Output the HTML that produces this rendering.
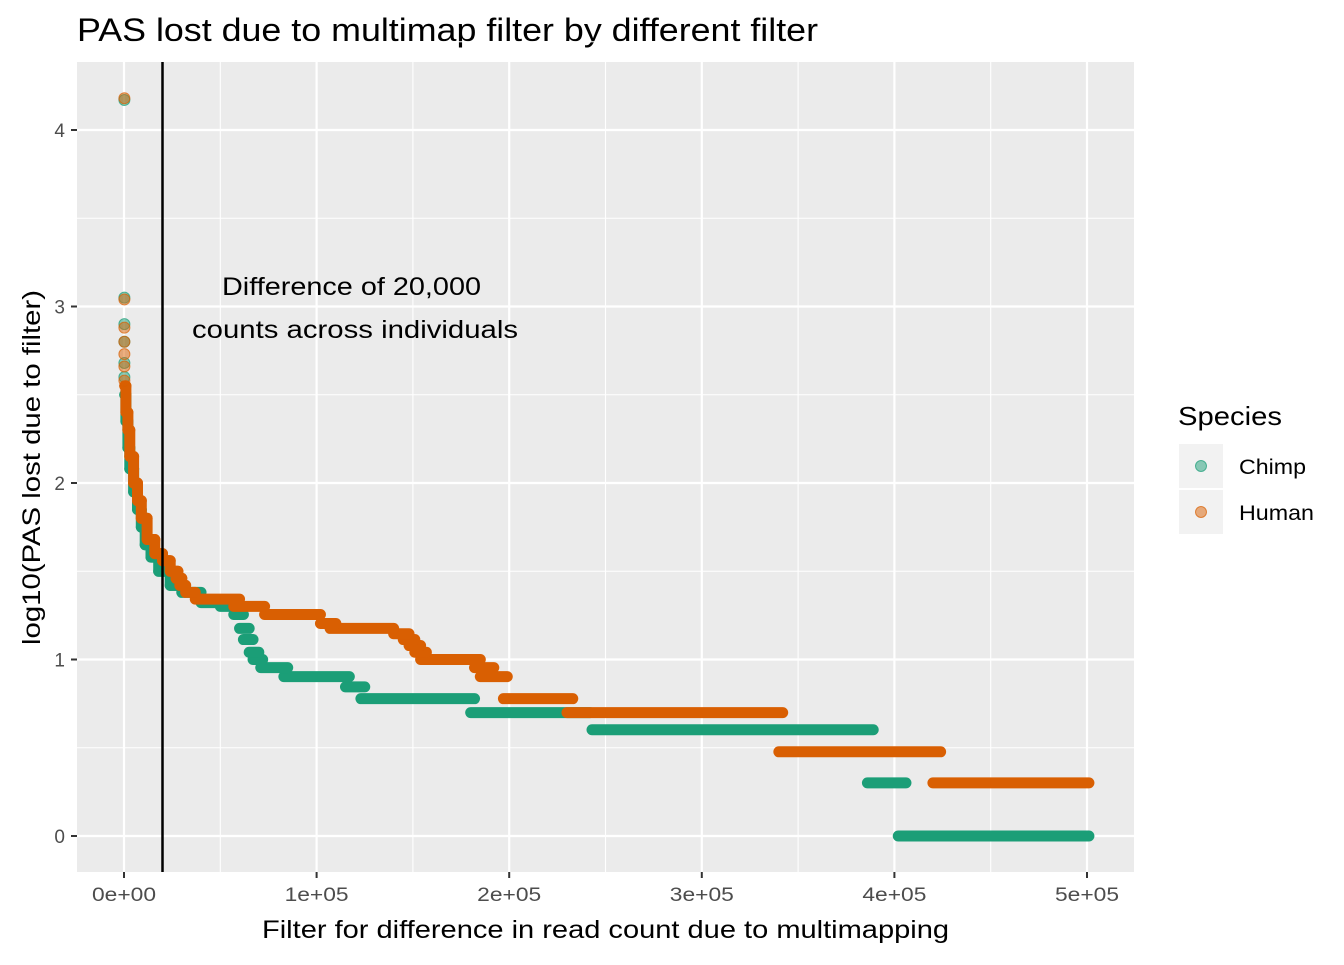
<!DOCTYPE html>
<html><head><meta charset="utf-8"><style>
body{margin:0;background:#fff;font-family:"Liberation Sans",sans-serif}
svg text{font-family:"Liberation Sans",sans-serif}
</style></head><body>
<svg id="chart" width="1344" height="960" xmlns="http://www.w3.org/2000/svg">
<text x="77" y="41" font-size="32" fill="#000" textLength="741" lengthAdjust="spacingAndGlyphs">PAS lost due to multimap filter by different filter</text>
<rect x="77" y="62" width="1057" height="810" fill="#EBEBEB"/>
<g id="grid"></g>
<g id="marks"></g>
<g id="axes"></g>
<line x1="162.5" y1="62" x2="162.5" y2="872" stroke="#000" stroke-width="2.5"/>
<text x="222" y="295" font-size="25" textLength="259" lengthAdjust="spacingAndGlyphs">Difference of 20,000</text>
<text x="192" y="338" font-size="25" textLength="326" lengthAdjust="spacingAndGlyphs">counts across individuals</text>
<text x="262" y="938" font-size="25" textLength="687" lengthAdjust="spacingAndGlyphs">Filter for difference in read count due to multimapping</text>
<text transform="translate(40,645) rotate(-90)" font-size="25" textLength="355" lengthAdjust="spacingAndGlyphs">log10(PAS lost due to filter)</text>
<g>
<text x="1178" y="425" font-size="26" textLength="104" lengthAdjust="spacingAndGlyphs">Species</text>
<rect x="1179" y="444" width="44" height="44" fill="#F2F2F2"/>
<circle cx="1201" cy="466" r="5.5" fill="#1B9E77" fill-opacity="0.5" stroke="#1B9E77" stroke-opacity="0.7"/>
<text x="1239" y="474" font-size="21" textLength="67" lengthAdjust="spacingAndGlyphs">Chimp</text>
<rect x="1179" y="490" width="44" height="44" fill="#F2F2F2"/>
<circle cx="1201" cy="512" r="5.5" fill="#D95F02" fill-opacity="0.5" stroke="#D95F02" stroke-opacity="0.7"/>
<text x="1239" y="520" font-size="21" textLength="75" lengthAdjust="spacingAndGlyphs">Human</text>
</g>
</svg>
<script>
const xTicks=[0,100,200,300,400,500];
const xTickLabels=["0e+00","1e+05","2e+05","3e+05","4e+05","5e+05"];
const yTicks=[0,1,2,3,4];
const yTickLabels=["0","1","2","3","4"];
// segments: start (thousands), end (thousands), log10 value
const chimpStart=[402,386,243,180,123,115,83,71,67,65,62,60,57,50,40,30,24,18,14,11,9,7,5,3,2,1,0.4];
const chimpEnd=[501,406,389,242,182,125,117,85,72,70,67,65,62,60,50,40,30,24,18,14,11,9,7,5,3,2,1];
const chimpY=[0,0.301,0.602,0.699,0.778,0.845,0.903,0.954,1.0,1.041,1.113,1.176,1.255,1.301,1.322,1.38,1.42,1.5,1.58,1.65,1.75,1.85,1.95,2.08,2.2,2.35,2.5];
const humanStart=[420,340,230,197,185,182,154,151,148,145,140,107,102,73,57,37,32,29,27,24,20,16,12,9,7,5,3,2,1,0.4];
const humanEnd=[501,424,342,233,199,192,185,157,154,151,148,140,110,102,73,60,37,32,30,28,24,20,16,12,9,7,5,3,2,1];
const humanY=[0.301,0.477,0.699,0.778,0.903,0.954,1.0,1.041,1.079,1.113,1.146,1.176,1.204,1.255,1.301,1.342,1.38,1.42,1.46,1.5,1.56,1.6,1.68,1.8,1.9,2.0,2.15,2.3,2.4,2.55];
const chimpOutX=[0.2,0.2,0.2,0.2,0.2,0.2];
const chimpOutY=[4.17,3.05,2.9,2.8,2.68,2.6];
const humanOutX=[0.2,0.2,0.2,0.2,0.2,0.2,0.2];
const humanOutY=[4.18,3.04,2.88,2.8,2.73,2.66,2.58];

const NS="http://www.w3.org/2000/svg";
const X=v=>124+v*1.926;
const Y=v=>836-v*176.5;
function mk(t,a,p){const e=document.createElementNS(NS,t);for(const k in a)e.setAttribute(k,a[k]);p.appendChild(e);return e;}
const grid=document.getElementById('grid'),marks=document.getElementById('marks'),axes=document.getElementById('axes');
xTicks.forEach((t,i)=>{
  const m=mk('line',{x1:X(t+50),x2:X(t+50),y1:62,y2:872,stroke:'#fff','stroke-width':1.1},grid);
  
  
  const g=mk('line',{x1:X(t),x2:X(t),y1:62,y2:872,stroke:'#fff','stroke-width':2.2},grid);
  
  
  mk('line',{x1:X(t),x2:X(t),y1:872,y2:878,stroke:'#333','stroke-width':2},axes);
  const tx=mk('text',{x:X(t),y:901,'font-size':19,'text-anchor':'middle',fill:'#4D4D4D',textLength:64,lengthAdjust:'spacingAndGlyphs'},axes);
  tx.textContent=xTickLabels[i];
  
  
});
yTicks.forEach((t,i)=>{
  const m=mk('line',{x1:77,x2:1134,y1:Y(t+0.5),y2:Y(t+0.5),stroke:'#fff','stroke-width':1.1},grid);
  
  
  const g=mk('line',{x1:77,x2:1134,y1:Y(t),y2:Y(t),stroke:'#fff','stroke-width':2.2},grid);
  
  
  mk('line',{x1:71,x2:77,y1:Y(t),y2:Y(t),stroke:'#333','stroke-width':2},axes);
  const tx=mk('text',{x:65,y:Y(t)+7,'font-size':19,'text-anchor':'end',fill:'#4D4D4D'},axes);
  tx.textContent=yTickLabels[i];
  
  
});
function series(s,e,y,ox,oy,col,name){
  let pts=[];
  s.forEach((v,i)=>{
    const l=mk('line',{x1:X(v),x2:X(e[i]),y1:Y(y[i]),y2:Y(y[i]),stroke:col,'stroke-width':11,'stroke-linecap':'round'},marks);
    
    
    if(e[i]<=32){pts.push([X(e[i]),Y(y[i])]);pts.push([X(v),Y(y[i])]);}
  });
  if(pts.length){
    const d=pts.map(p=>p[0].toFixed(1)+','+p[1].toFixed(1)).join(' ');
    const pl=mk('polyline',{points:d,fill:'none',stroke:col,'stroke-width':11,'stroke-linejoin':'round','stroke-linecap':'round'},marks);
    
    
  }
  ox.forEach((v,i)=>{
    const c=mk('circle',{cx:X(v),cy:Y(oy[i]),r:5.5,fill:col,'fill-opacity':0.5,stroke:col,'stroke-opacity':0.7},marks);
    
    
  });
}
series(chimpStart,chimpEnd,chimpY,chimpOutX,chimpOutY,'#1B9E77','chimp');
series(humanStart,humanEnd,humanY,humanOutX,humanOutY,'#D95F02','human');
</script>
</body></html>
